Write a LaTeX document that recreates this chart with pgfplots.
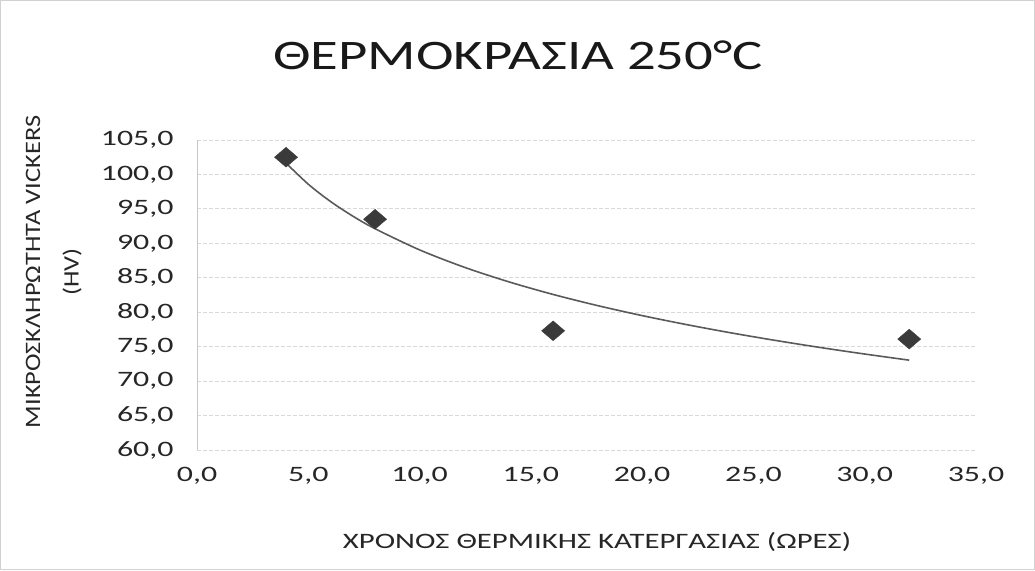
\documentclass[border=0pt]{standalone}
\usepackage{pgfplots}
\pgfplotsset{compat=1.18}
\usepackage{fontspec}
\setmainfont{Carlito}
\newfontfamily\titlefont{Carlito}[FakeStretch=1.35]
\newfontfamily\tickfont{Carlito}[FakeStretch=1.45]
\newfontfamily\xlabfont{Carlito}[FakeStretch=1.4]
\newfontfamily\ylabfont{Carlito}[FakeStretch=1.2]
\definecolor{mk}{HTML}{3A3A3A}
\definecolor{ln}{HTML}{5A5A5A}
\begin{document}
\begin{tikzpicture}[x=1pt,y=1pt]
\useasboundingbox (0,0) rectangle (1035,570);
\draw[gray!35, line width=1pt] (0.5,0.5) rectangle (1034.5,569.5);
\begin{axis}[
  at={(197pt,120pt)}, anchor=south west,
  scale only axis, width=779pt, height=310pt,
  xmin=0, xmax=35, ymin=60, ymax=105,
  xtick={0,5,...,35}, ytick={60,65,...,105},
  axis lines*=left,
  x axis line style={draw=none},
  y axis line style={gray!45, line width=0.8pt},
  major tick length=0pt,
  ymajorgrids,
  grid style={gray!30, line width=0.8pt, dash pattern=on 4pt off 2pt},
  /pgf/number format/.cd, fixed, fixed zerofill, precision=1, use comma, assume math mode=true,
  /pgfplots/.cd,
  tick label style={font=\tickfont\fontsize{22}{26}\selectfont, text=black!85},
  yticklabel style={xshift=-20pt},
  xticklabel style={yshift=-14pt},
  clip=false,
]
\addplot[ln, line width=1.6pt, smooth] coordinates {
 (4,101.65) (5,98.58) (6,96.07) (7,93.95) (8,92.12) (10,89.05) (12,86.54)
 (14,84.42) (16,82.58) (18,80.96) (20,79.51) (22,78.20) (24,77.00)
 (26,75.90) (28,74.88) (30,73.93) (32,73.04)
};
\addplot[only marks, mark=diamond*, mark size=11pt, mark options={fill=mk, draw=mk, xscale=1.4, yscale=0.9}] coordinates {
 (4,102.5) (8,93.5) (16,77.3) (32,76.1)
};
\end{axis}
\node[font=\titlefont\fontsize{42}{50}\selectfont, text=black!90] at (518,515) {ΘΕΡΜΟΚΡΑΣΙΑ 250°C};
\node[font=\xlabfont\fontsize{22}{26}\selectfont, text=black!85] at (597,28) {ΧΡΟΝΟΣ ΘΕΡΜΙΚΗΣ ΚΑΤΕΡΓΑΣΙΑΣ (ΩΡΕΣ)};
\node[rotate=90, font=\ylabfont\fontsize{22}{26}\selectfont, text=black!85] at (33,298) {ΜΙΚΡΟΣΚΛΗΡΩΤΗΤΑ VICKERS};
\node[rotate=90, font=\ylabfont\fontsize{22}{26}\selectfont, text=black!85] at (72,298) {(HV)};
\end{tikzpicture}
\end{document}
